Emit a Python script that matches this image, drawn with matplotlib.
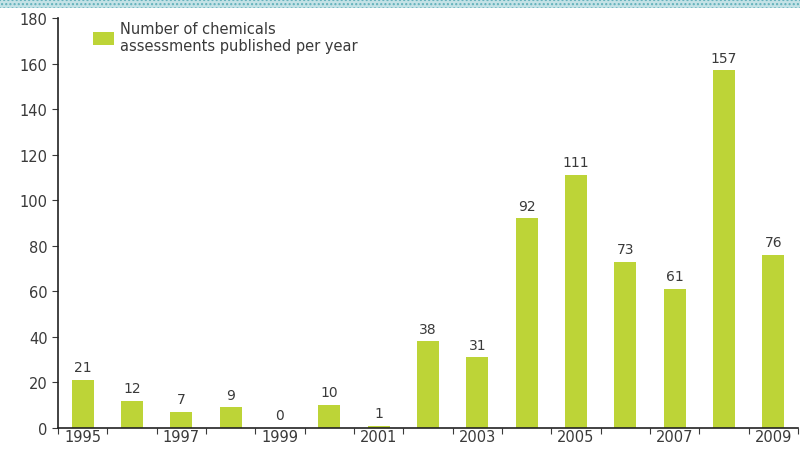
import numpy as np
import matplotlib.pyplot as plt
from matplotlib.patches import Rectangle

years = list(range(1995, 2010))
counts = [21, 12, 7, 9, 0, 10, 1, 38, 31, 92, 111, 73, 61, 157, 76]
yticks = [0, 20, 40, 60, 80, 100, 120, 140, 160, 180]

bar_color = '#bdd437'
text_color = '#3a3a3a'

fig = plt.figure(figsize=(8, 4.52), dpi=100)
ax = fig.add_axes([0.0725, 0.051, 0.925, 0.907])

x = np.arange(len(years))
ax.bar(x, counts, width=0.44, color=bar_color, label='Number of chemicals\nassessments published per year')
for xi, c in zip(x, counts):
    ax.text(xi, c + 2.5, str(c), ha='center', va='bottom', fontsize=10, color=text_color)

ax.set_xlim(-0.5, len(years) - 0.5)
ax.set_ylim(0, 180)
ax.set_yticks(yticks)
ax.tick_params(axis='y', labelsize=10.5, colors=text_color, length=4, direction='out')

# ticks at category boundaries, labels on odd years
ax.set_xticks(np.arange(-0.5, len(years), 1.0))
ax.set_xticklabels([])
ax.set_xticks(x[::2], minor=True)
ax.set_xticklabels([str(y) for y in years[::2]], minor=True)
ax.tick_params(axis='x', which='major', length=4, direction='out', color=text_color)
ax.tick_params(axis='x', which='minor', length=0, labelsize=10.5, colors=text_color, pad=1)

for s in ['top', 'right']:
    ax.spines[s].set_visible(False)
for s in ['left', 'bottom']:
    ax.spines[s].set_color('#222222')
    ax.spines[s].set_linewidth(1.2)

ax.legend(loc='upper left', bbox_to_anchor=(0.03, 1.025), frameon=False, fontsize=10.5,
          handlelength=1.4, handleheight=1.0, labelcolor=text_color, handletextpad=0.4,
          labelspacing=0.2)

# dotted band at the top
band = Rectangle((0, 0.98), 1, 0.02, transform=fig.transFigure, facecolor='#c4e2e6',
                 edgecolor='#5fb0ba', hatch='....', linewidth=0)
fig.patches.append(band)

fig.savefig('out.png', dpi=100)
